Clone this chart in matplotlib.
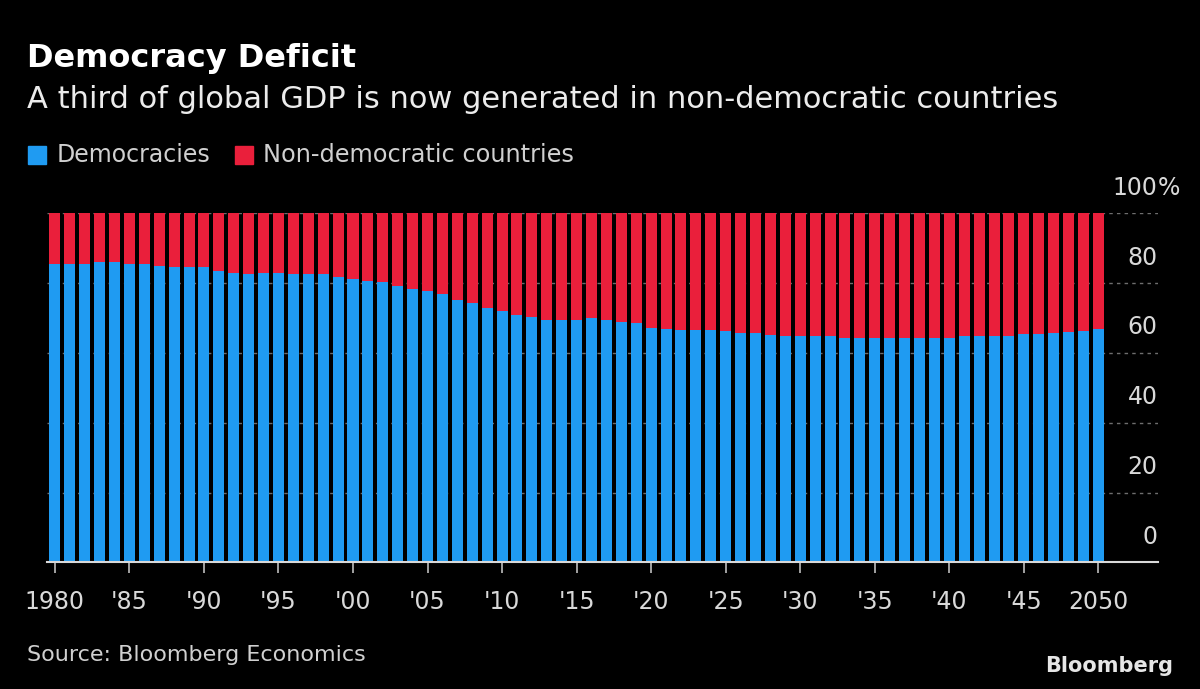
import numpy as np
import matplotlib
matplotlib.use('Agg')
import matplotlib.pyplot as plt
from matplotlib.patches import Rectangle

years = list(range(1980, 2051))
democracies = [85.6, 85.6, 85.6, 86.1, 86.1, 85.6, 85.6, 84.9, 84.5, 84.5,
               84.5, 83.4, 82.9, 82.5, 82.9, 82.9, 82.5, 82.5, 82.5, 81.8,
               81.3, 80.7, 80.2, 79.2, 78.2, 77.7, 76.8, 75.1, 74.2, 73.0,
               72.1, 70.9, 70.4, 69.4, 69.4, 69.4, 69.9, 69.4, 68.9, 68.5,
               67.2, 66.8, 66.6, 66.6, 66.6, 66.3, 65.8, 65.8, 65.2, 64.9,
               64.9, 64.9, 64.9, 64.4, 64.4, 64.4, 64.4, 64.4, 64.4, 64.4,
               64.4, 64.9, 64.9, 64.9, 65.0, 65.3, 65.5, 65.7, 66.0, 66.3,
               66.8]
non_democratic = [100 - v for v in democracies]

xtick_years = list(range(1980, 2051, 5))
xtick_labels = ['1980', "'85", "'90", "'95", "'00", "'05", "'10", "'15",
                "'20", "'25", "'30", "'35", "'40", "'45", '2050']
ytick_values = [0, 20, 40, 60, 80, 100]
ytick_labels = ['0', '20', '40', '60', '80', '100']

blue = '#1f9bf2'
red = '#ea1f3b'
plt.rcParams['font.family'] = ['DejaVu Sans']

fig = plt.figure(figsize=(12, 6.89), dpi=100, facecolor='black')
ax = fig.add_axes([0.039, 0.1836, 0.926, 0.5068])
ax.set_facecolor('black')

# dotted gridlines behind the bars
for v in ytick_values[1:]:
    ax.axhline(v, color='#6e6e6e', linewidth=1, linestyle=(0, (2.5, 3)), zorder=0)

ax.bar(years, democracies, width=0.74, color=blue, zorder=2)
ax.bar(years, non_democratic, width=0.74, bottom=democracies, color=red, zorder=2)

ax.set_xlim(1979.46, 2054.0)
ax.set_ylim(0, 100)
for s in ['top', 'right', 'left']:
    ax.spines[s].set_visible(False)
ax.spines['bottom'].set_color('#d9d9d9')
ax.spines['bottom'].set_linewidth(1.5)
ax.set_yticks([])
ax.set_xticks(xtick_years)
ax.set_xticklabels(xtick_labels, fontsize=17, color='#d9d9d9')
ax.tick_params(axis='x', colors='#bdbdbd', length=8, width=1.2, pad=12, labelcolor='#d9d9d9')

trans = matplotlib.transforms.blended_transform_factory(ax.transAxes, ax.transData)
for v, lab in zip(ytick_values, ytick_labels):
    ax.text(0.9995, v + 7.3, lab, transform=trans, ha='right', va='center',
            fontsize=17, color='#d9d9d9')
ax.text(0.9995, 107.3, '%', transform=trans, ha='left', va='center',
        fontsize=17, color='#d9d9d9')

fig.text(0.0225, 0.915, 'Democracy Deficit', fontsize=23, fontweight='bold',
         color='white', va='center')
fig.text(0.0225, 0.856, 'A third of global GDP is now generated in non-democratic countries',
         fontsize=22, color='#ececec', va='center')

fig.patches.append(Rectangle((0.0233, 0.7625), 0.015, 0.026, transform=fig.transFigure,
                             color=blue, figure=fig))
fig.text(0.0475, 0.775, 'Democracies', fontsize=17, color='#d0d0d0', va='center')
fig.patches.append(Rectangle((0.196, 0.7625), 0.015, 0.026, transform=fig.transFigure,
                             color=red, figure=fig))
fig.text(0.219, 0.775, 'Non-democratic countries', fontsize=17.3, color='#d0d0d0', va='center')

fig.text(0.0225, 0.049, 'Source: Bloomberg Economics', fontsize=16, color='#d0d0d0', va='center')
fig.text(0.978, 0.034, 'Bloomberg', fontsize=15, fontweight='bold', color='#e6e6e6',
         ha='right', va='center')

plt.savefig('out.png', dpi=100, facecolor='black')
